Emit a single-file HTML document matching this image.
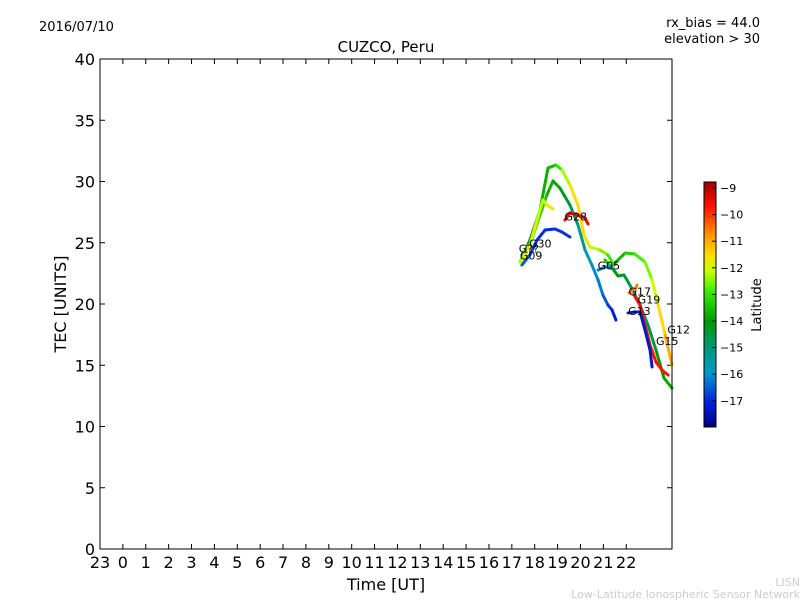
<!DOCTYPE html>
<html><head><meta charset="utf-8"><style>
body{margin:0;background:#fff;}
svg text{font-family:"DejaVu Sans","Liberation Sans",sans-serif;}
</style></head><body>
<svg id="chart" width="800" height="600" xmlns="http://www.w3.org/2000/svg">
<defs>
<linearGradient id="jet" x1="0" y1="1" x2="0" y2="0">
<stop offset="0" stop-color="#000080"/><stop offset="0.1" stop-color="#0022dd"/>
<stop offset="0.22" stop-color="#0099cc"/><stop offset="0.33" stop-color="#009977"/>
<stop offset="0.43" stop-color="#009900"/><stop offset="0.55" stop-color="#33ee00"/>
<stop offset="0.64" stop-color="#ccff00"/><stop offset="0.7" stop-color="#ffdd00"/>
<stop offset="0.78" stop-color="#ff9900"/><stop offset="0.9" stop-color="#ff1000"/>
<stop offset="1" stop-color="#a00000"/>
</linearGradient>
</defs>
<rect x="0" y="0" width="800" height="600" fill="#fff"/>
<text x="39" y="31" font-size="13">2016/07/10</text>
<text x="760" y="27" font-size="13" text-anchor="end">rx_bias = 44.0</text>
<text x="760" y="43" font-size="13" text-anchor="end">elevation &gt; 30</text>
<text x="386" y="52" font-size="15" text-anchor="middle">CUZCO, Peru</text>
<g id="axes"></g>
<g id="series"></g>
<rect x="100" y="59" width="572" height="490" fill="none" stroke="#000" stroke-width="1"/>
<text x="386" y="590" font-size="16" text-anchor="middle">Time [UT]</text>
<text transform="translate(66,304) rotate(-90)" font-size="16" text-anchor="middle">TEC [UNITS]</text>
<rect x="704" y="182" width="12" height="245" fill="url(#jet)" stroke="#000" stroke-width="1"/>
<g id="cbar"></g>
<text transform="translate(761,305) rotate(-90)" font-size="13" text-anchor="middle">Latitude</text>
<text x="800" y="586" font-size="11" fill="#ccc" text-anchor="end">LISN</text>
<text x="800" y="598" font-size="11" fill="#ccc" text-anchor="end">Low-Latitude Ionospheric Sensor Network</text>
</svg>
<script>
const xTickLabels=["23","0","1","2","3","4","5","6","7","8","9","10","11","12","13","14","15","16","17","18","19","20","21","22"];
const yTicks=[0,5,10,15,20,25,30,35,40];
const cbarTicks=[-9,-10,-11,-12,-13,-14,-15,-16,-17];
const s1T=[17.36,17.79,18.23,18.58,18.93,19.19,19.54,19.89,20.15,20.42,20.85,21.2,21.47,21.55,21.95,22.38,22.82,23.13,23.39,23.7,24.0];
const s1V=[23.43,25.22,27.67,31.1,31.35,30.94,29.71,28.08,25.63,24.65,24.41,24.0,23.18,23.43,24.16,24.08,23.43,21.96,19.92,17.47,15.02];
const s1L=[-14.5,-14.5,-14,-14,-13.8,-13,-12,-11.7,-11.8,-12.3,-12.5,-13,-13.5,-14,-13.8,-13.3,-13,-12.5,-12,-11.5,-11];
const s2T=[17.36,17.79,18.23,18.53,18.8,19.1,19.54,19.89,20.2,20.5,20.77,20.98,21.2,21.38,21.55];
const s2V=[23.43,24.82,27.27,28.9,30.04,29.47,28.08,26.45,24.41,23.18,21.96,20.73,19.92,19.51,18.69];
const s2L=[-12,-13,-13.5,-14,-14,-14.3,-14.8,-15.3,-15.8,-16.2,-16.4,-16.6,-17,-17.3,-17.6];
const s3T=[21.07,21.38,21.64,21.9,22.16,22.6,22.95,23.3,23.65,24.0];
const s3V=[23.59,22.94,22.29,22.37,21.55,19.92,18.29,16.24,13.96,13.14];
const s3L=[-13.5,-14,-14.5,-14.5,-15,-15.5,-15,-14.5,-14.2,-14];
const s4T=[17.44,17.79,18.1,18.36,18.53,18.8];
const s4V=[23.43,24.82,26.86,28.49,28.08,27.76];
const s4L=[-11.8,-12,-12.2,-12.5,-12,-11.8];
const s5T=[17.44,17.79,18.1,18.45,18.89,19.19,19.54];
const s5V=[23.18,24.0,25.22,26.04,26.12,25.88,25.47];
const s5L=[-16.5,-17,-17.2,-17.3,-17.3,-17.2,-17.2];
const g28T=[19.32,19.54,19.98,20.2,20.33];
const g28V=[26.86,27.43,27.18,27.02,26.53];
const g28L=[-9.5,-9.5,-9.5,-9.5,-9.5];
const g05T=[20.77,21.07,21.38];
const g05V=[22.78,23.02,22.94];
const g05L=[-16.5,-16.5,-16.5];
const g17T=[22.12,22.38,22.47];
const g17V=[20.9,21.14,21.55];
const g17L=[-10.8,-10.8,-10.8];
const g19T=[22.34,22.6,22.82,23.04,23.3,23.56,23.83];
const g19V=[20.73,19.92,18.29,16.65,15.27,14.61,14.2];
const g19L=[-9.8,-9.8,-9.8,-9.8,-9.8,-9.9,-10];
const g13T=[22.08,22.38,22.6,22.82,23.04,23.13];
const g13V=[19.27,19.35,19.35,17.88,16.24,14.86];
const g13L=[-17.5,-17.5,-17.5,-17.5,-17.5,-17.5];
const labelNames=["G??","G30","G09","G28","G05","G17","G19","G13","G12","G15"];
const labelT=[17.3,17.75,17.35,19.3,20.75,22.1,22.5,22.08,23.8,23.3];
const labelV=[24.2,24.6,23.65,26.8,22.8,20.7,20.05,19.1,17.6,16.65];

const NS="http://www.w3.org/2000/svg";
const xs=h=>100+(h+1)*22.88;
const ys=v=>549-v*12.25;
const cy=l=>188+(-9-l)*26.6;
function mk(tag,attrs,parent){const e=document.createElementNS(NS,tag);for(const k in attrs)e.setAttribute(k,attrs[k]);parent.appendChild(e);return e;}
const stops=[[-17.85,[0,0,128]],[-17.4,[0,34,221]],[-16.2,[0,153,204]],[-15.2,[0,153,119]],[-14.3,[0,153,0]],[-13.2,[51,238,0]],[-12.3,[204,255,0]],[-11.8,[255,221,0]],[-11.0,[255,153,0]],[-9.9,[255,16,0]],[-8.5,[160,0,0]]];
function col(l){for(let i=0;i<stops.length-1;i++){const a=stops[i],b=stops[i+1];if(l>=a[0]&&l<=b[0]){const f=(l-a[0])/(b[0]-a[0]);return "rgb("+a[1].map((c,j)=>Math.round(c+(b[1][j]-c)*f)).join(",")+")";}}return l<-17.85?"rgb(0,0,128)":"rgb(160,0,0)";}
const ax=document.getElementById('axes');
xTickLabels.forEach((lab,i)=>{const x=xs(i-1);
 const t=mk('line',{x1:x,x2:x,y1:549,y2:544,stroke:'#000'},ax);
 
 
 const t2=mk('line',{x1:x,x2:x,y1:59,y2:64,stroke:'#000'},ax);
 
 
 const tx=mk('text',{x:x,y:568,'font-size':16,'text-anchor':'middle'},ax);tx.textContent=lab;
 
 });
yTicks.forEach(v=>{const y=ys(v);
 const t=mk('line',{x1:100,x2:105,y1:y,y2:y,stroke:'#000'},ax);
 
 
 const t2=mk('line',{x1:667,x2:672,y1:y,y2:y,stroke:'#000'},ax);
 
 
 const tx=mk('text',{x:95,y:y+6,'font-size':16,'text-anchor':'end'},ax);tx.textContent=v;
 
 });
const cb=document.getElementById('cbar');
cbarTicks.forEach(l=>{const y=cy(l);
 const t=mk('line',{x1:712,x2:716,y1:y,y2:y,stroke:'#000'},cb);
 
 
 const tx=mk('text',{x:720,y:y+4,'font-size':11},cb);tx.textContent="\u2212"+Math.abs(l);
 
 });
const sg=document.getElementById('series');
const series=[[s1T,s1V,s1L],[s2T,s2V,s2L],[s3T,s3V,s3L],[s4T,s4V,s4L],[s5T,s5V,s5L],[g28T,g28V,g28L],[g05T,g05V,g05L],[g17T,g17V,g17L],[g19T,g19V,g19L],[g13T,g13V,g13L]];
series.forEach((s,si)=>{const g=mk('g',{},sg);
 
 
 for(let i=0;i<s[0].length-1;i++){
  const seg=mk('line',{x1:xs(s[0][i]),y1:ys(s[1][i]),x2:xs(s[0][i+1]),y2:ys(s[1][i+1]),stroke:col((s[2][i]+s[2][i+1])/2),'stroke-width':3,'stroke-linecap':'round'},g);
  
  
 }});
labelNames.forEach((n,i)=>{const tx=mk('text',{x:xs(labelT[i]),y:ys(labelV[i]),'font-size':11},sg);tx.textContent=n;
 
 });
</script>
</body></html>
